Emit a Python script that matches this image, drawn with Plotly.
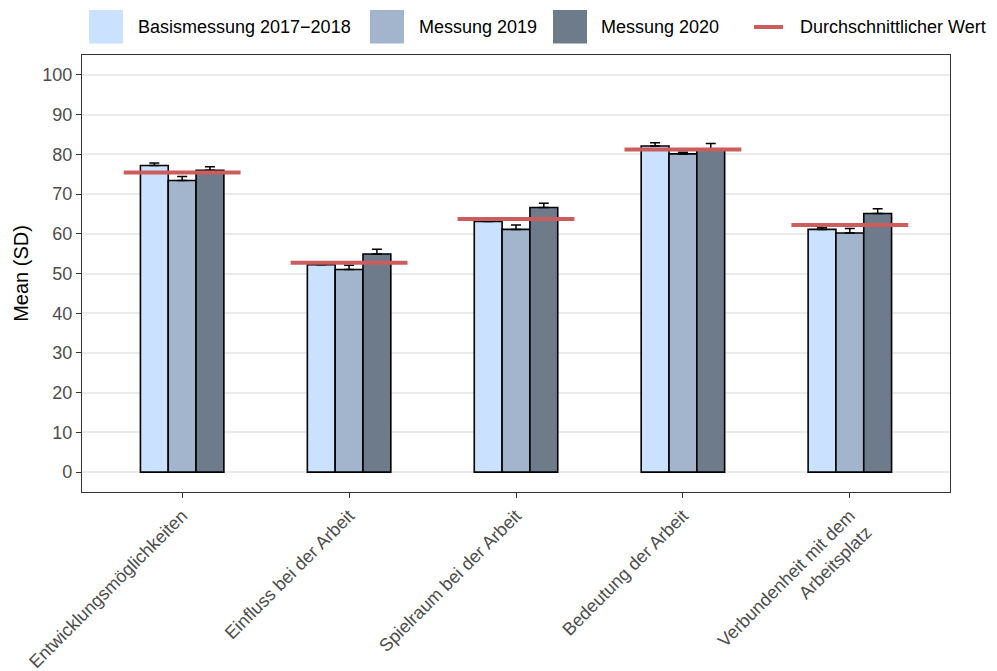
import plotly.graph_objects as go

categories = ["Entwicklungsmöglichkeiten", "Einfluss bei der Arbeit", "Spielraum bei der Arbeit",
              "Bedeutung der Arbeit", "Verbundenheit mit dem<br>Arbeitsplatz"]
series_names = ["Basismessung 2017\u22122018", "Messung 2019", "Messung 2020"]
mean_name = "Durchschnittlicher Wert"
basis = [77.2, 52.2, 63.1, 82.1, 61.1]
m2019 = [73.4, 51.0, 61.1, 80.1, 60.2]
m2020 = [76.0, 54.9, 66.6, 81.3, 65.1]
err_basis = [0.6, 0.4, 0.6, 0.8, 0.4]
err_2019 = [1.0, 1.1, 1.1, 0.4, 1.1]
err_2020 = [0.9, 1.2, 1.1, 1.4, 1.2]
mean_vals = [75.4, 52.7, 63.7, 81.2, 62.2]
y_ticks = list(range(0, 101, 10))

colors = ["#CAE1FF", "#A2B5CD", "#6E7B8B"]
mean_color = "#CD5C5C"
xpos = list(range(1, len(categories) + 1))

# the page body has an 8px default margin, so the figure is 8px smaller and offset
OFF = 8
W, H = 997 - OFF, 671 - OFF
ML, MR, MT, MB = 82 - OFF, 47, 55 - OFF, 179
PW, PH = W - ML - MR, H - MT - MB

def px_x(p):
    return (p - OFF - ML) / PW

def px_y(p):
    return (H - MB - (p - OFF)) / PH

fig = go.Figure()
for name, vals, errs, col in zip(series_names, [basis, m2019, m2020],
                                  [err_basis, err_2019, err_2020], colors):
    fig.add_trace(go.Bar(
        x=xpos, y=vals, name=name, showlegend=False,
        marker=dict(color=col, line=dict(color="black", width=1.6)),
        error_y=dict(type="data", array=errs, arrayminus=[0] * len(errs), symmetric=False,
                     color="black", thickness=1.5, width=5),
    ))

half = 0.35
for xp, mv in zip(xpos, mean_vals):
    fig.add_trace(go.Scatter(
        x=[xp - half, xp + half], y=[mv, mv], mode="lines",
        line=dict(color=mean_color, width=4),
        name=mean_name, showlegend=False,
    ))

# manual legend (large key boxes like the reference); positions in window pixels
shapes = []
annotations = []
legend_items = [
    ("box", colors[0], series_names[0], 89, 136),
    ("box", colors[1], series_names[1], 370, 417),
    ("box", colors[2], series_names[2], 553, 599),
    ("line", mean_color, mean_name, 754, 798),
]
key_top, key_bot, key_mid = 10, 43.5, 27
for kind, col, label, kx, tx in legend_items:
    if kind == "box":
        shapes.append(dict(type="rect", xref="paper", yref="paper",
                           x0=px_x(kx), x1=px_x(kx + 34), y0=px_y(key_bot), y1=px_y(key_top),
                           fillcolor=col, line=dict(width=0)))
    else:
        shapes.append(dict(type="line", xref="paper", yref="paper",
                           x0=px_x(kx), x1=px_x(kx + 29), y0=px_y(key_mid), y1=px_y(key_mid),
                           line=dict(color=col, width=4)))
    annotations.append(dict(xref="paper", yref="paper", x=px_x(tx), y=px_y(key_mid),
                            xanchor="left", yanchor="middle", text=label, showarrow=False,
                            font=dict(size=18, color="black")))

fig.update_layout(
    width=W, height=H,
    barmode="group", bargap=0.5, bargroupgap=0,
    paper_bgcolor="white", plot_bgcolor="white",
    font=dict(family="Liberation Sans, Arial, sans-serif", size=18, color="black"),
    margin=dict(l=ML, r=MR, t=MT, b=MB, autoexpand=False),
    showlegend=False,
    shapes=shapes, annotations=annotations,
    xaxis=dict(range=[0.4, 5.6], tickvals=xpos, ticktext=categories, tickangle=-45,
               showgrid=False, zeroline=False, ticks="outside", ticklen=5, tickwidth=1.2,
               tickcolor="#333333", tickfont=dict(size=18, color="#4D4D4D"),
               showline=True, linecolor="#333333", linewidth=1.3, mirror=True,
               automargin=False),
    yaxis=dict(range=[-5, 105], tickvals=y_ticks, showgrid=True, gridcolor="#EBEBEB",
               gridwidth=1.5, zeroline=False, ticks="outside", ticklen=5, tickwidth=1.2,
               tickcolor="#333333", tickfont=dict(size=18, color="#4D4D4D"),
               title=dict(text="Mean (SD)", font=dict(size=20, color="black"), standoff=8),
               showline=True, linecolor="#333333", linewidth=1.3, mirror=True,
               automargin=False),
)

fig.write_html("out.html")
